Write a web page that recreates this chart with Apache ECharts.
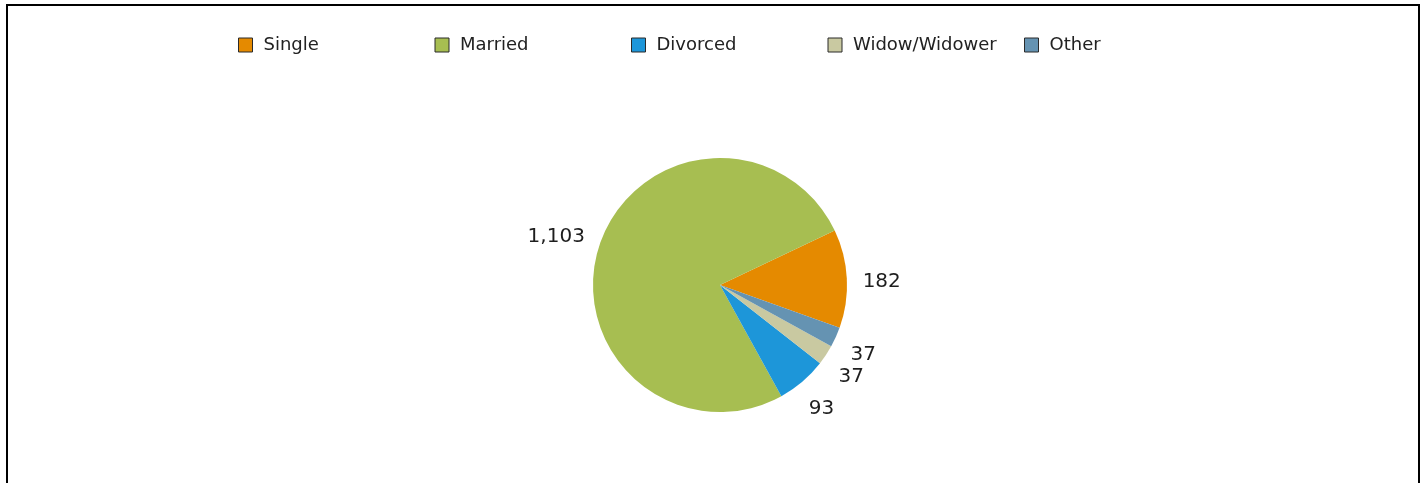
<!DOCTYPE html>
<html>
<head>
<meta charset="utf-8">
<title>Marital status</title>
<script src="https://cdn.jsdelivr.net/npm/echarts@6/dist/echarts.min.js"></script>
<style>
  html, body { margin: 0; padding: 0; background: #fff; }
  #chart { width: 1425px; height: 483px; }
</style>
</head>
<body>
<div id="chart"></div>
<script>
// Marital status breakdown
const categories = ['Single', 'Married', 'Divorced', 'Widow/Widower', 'Other'];
const counts = [182, 1103, 93, 37, 37];
const colors = ['#E58A00', '#A7BE51', '#1D96D9', '#C9C9A1', '#6593B2'];

const pieCenter = [720, 285];
const pieRadius = 127;
const startAngle = -19.7;   // slices run counter-clockwise from here
const labelGap = 142.5;     // distance from centre to the inner edge of a value label
const labelFont = 20;
const digitLift = 5;        // digits sit above the middle of their text box

const total = counts.reduce((a, b) => a + b, 0);

// Mid-angle of each slice (degrees, counter-clockwise from 3 o'clock)
const midAngles = [];
let acc = 0;
counts.forEach(v => {
  midAngles.push(startAngle + (acc + v / 2) / total * 360);
  acc += v;
});

const chart = echarts.init(document.getElementById('chart'), null, { renderer: 'canvas' });

chart.setOption({
  animation: false,
  backgroundColor: '#fff',
  color: colors,
  graphic: [{
    type: 'rect',
    silent: true,
    shape: { x: 7, y: 5, width: 1412, height: 540 },
    style: { fill: 'none', stroke: '#000', lineWidth: 2 }
  }],
  legend: {
    data: categories,
    orient: 'horizontal',
    left: 238,
    top: 34,
    padding: 0,
    itemWidth: 14,
    itemHeight: 14,
    itemGap: 0,
    icon: 'rect',
    selectedMode: false,
    itemStyle: { borderColor: '#2a2a2a', borderWidth: 1 },
    textStyle: {
      fontFamily: 'DejaVu Sans',
      fontSize: 18,
      color: '#222',
      width: 171,
      lineHeight: 22,
      padding: [0, 0, 0, 6]
    }
  },
  series: [{
    type: 'pie',
    center: pieCenter,
    radius: pieRadius,
    startAngle: startAngle,
    clockwise: false,
    avoidLabelOverlap: false,
    emphasis: { disabled: true },
    itemStyle: { borderWidth: 0 },
    label: {
      show: true,
      position: 'outside',
      fontFamily: 'DejaVu Sans',
      fontSize: labelFont,
      color: '#1e1e1e',
      formatter: p => p.value.toLocaleString('en-US')
    },
    labelLine: { show: false },
    labelLayout: function (params) {
      const a = midAngles[params.dataIndex] * Math.PI / 180;
      const dx = Math.cos(a), dy = -Math.sin(a);
      const w = params.labelRect.width;
      const h = labelFont * 0.75;
      const d = labelGap + (w / 2) * Math.abs(dx) + (h / 2) * Math.abs(dy);
      return {
        x: pieCenter[0] + dx * d,
        y: pieCenter[1] + dy * d + digitLift,
        align: 'center',
        verticalAlign: 'middle'
      };
    },
    data: categories.map((name, i) => ({ name: name, value: counts[i] }))
  }]
});
</script>
</body>
</html>
